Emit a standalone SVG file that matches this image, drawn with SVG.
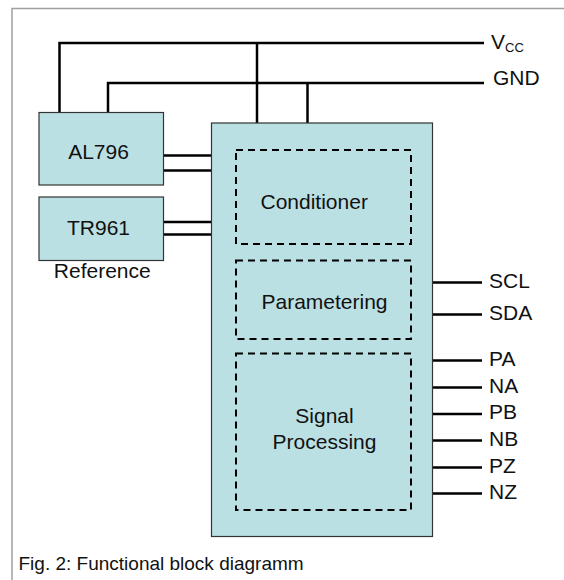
<svg xmlns="http://www.w3.org/2000/svg" width="564" height="580" viewBox="0 0 564 580">
<style>
.frame{fill:none;stroke:#a0a0a0;stroke-width:1.5}
.box{fill:#bbe0e3;stroke:#333;stroke-width:1.2}
.dash{fill:none;stroke:#000;stroke-width:2;stroke-dasharray:7 5}
.w{fill:none;stroke:#000;stroke-width:2.5}
text{font-family:"Liberation Sans",Arial,sans-serif;fill:#111}
.lbl{font-size:21px}
.cap{font-size:19px}
</style>
<rect width="564" height="580" fill="#fff"/>
<path class="frame" d="M12,580 V8.5 H564"/>
<g id="connectors">
<path class="w" d="M59.5,112.5 V43 H484"/>
<path class="w" d="M257,123 V43"/>
<path class="w" d="M108,112.5 V83 H484"/>
<path class="w" d="M307.5,123 V83"/>
<path class="w" d="M164,155.5 H236 M164,170.5 H236"/>
<path class="w" d="M164,222 H236 M164,234.5 H236"/>
<path class="w" d="M411,282.5 H482 M411,314.5 H482"/>
<path class="w" d="M411,360.5 H482 M411,387.5 H482 M411,414 H482 M411,440.5 H482 M411,467.5 H482 M411,493.5 H482"/>
</g>
<g id="AL796">
<rect class="box" x="39" y="112.5" width="124.5" height="72.5"/>
<text class="lbl" x="98.5" y="158.5" text-anchor="middle">AL796</text>
</g>
<g id="TR961">
<rect class="box" x="39" y="197" width="124.5" height="63.5"/>
<text class="lbl" x="98.5" y="235" text-anchor="middle">TR961</text>
<text class="lbl" x="102.3" y="277.5" text-anchor="middle">Reference</text>
</g>
<g id="main">
<rect class="box" x="211.5" y="123" width="221" height="413.5"/>
</g>
<g id="conditioner">
<rect class="dash" x="236" y="150" width="175" height="94"/>
<text class="lbl" x="260.5" y="209">Conditioner</text>
</g>
<g id="parametering">
<rect class="dash" x="236" y="260.5" width="175" height="78.5"/>
<text class="lbl" x="324.5" y="309" text-anchor="middle">Parametering</text>
</g>
<g id="signal">
<rect class="dash" x="236" y="353.5" width="175" height="156.5"/>
<text class="lbl" x="324.5" y="423" text-anchor="middle">Signal</text>
<text class="lbl" x="324.5" y="449" text-anchor="middle">Processing</text>
</g>
<g id="labels">
<text class="lbl" x="491" y="49">V<tspan font-size="13" dy="3">CC</tspan></text>
<text class="lbl" x="493" y="85">GND</text>
<text class="lbl" x="489" y="288">SCL</text>
<text class="lbl" x="489" y="320">SDA</text>
<text class="lbl" x="489" y="366">PA</text>
<text class="lbl" x="489" y="393">NA</text>
<text class="lbl" x="489" y="419">PB</text>
<text class="lbl" x="489" y="446">NB</text>
<text class="lbl" x="489" y="473">PZ</text>
<text class="lbl" x="489" y="499">NZ</text>
</g>
<text class="cap" x="18.5" y="570">Fig. 2: Functional block diagramm</text>
</svg>
